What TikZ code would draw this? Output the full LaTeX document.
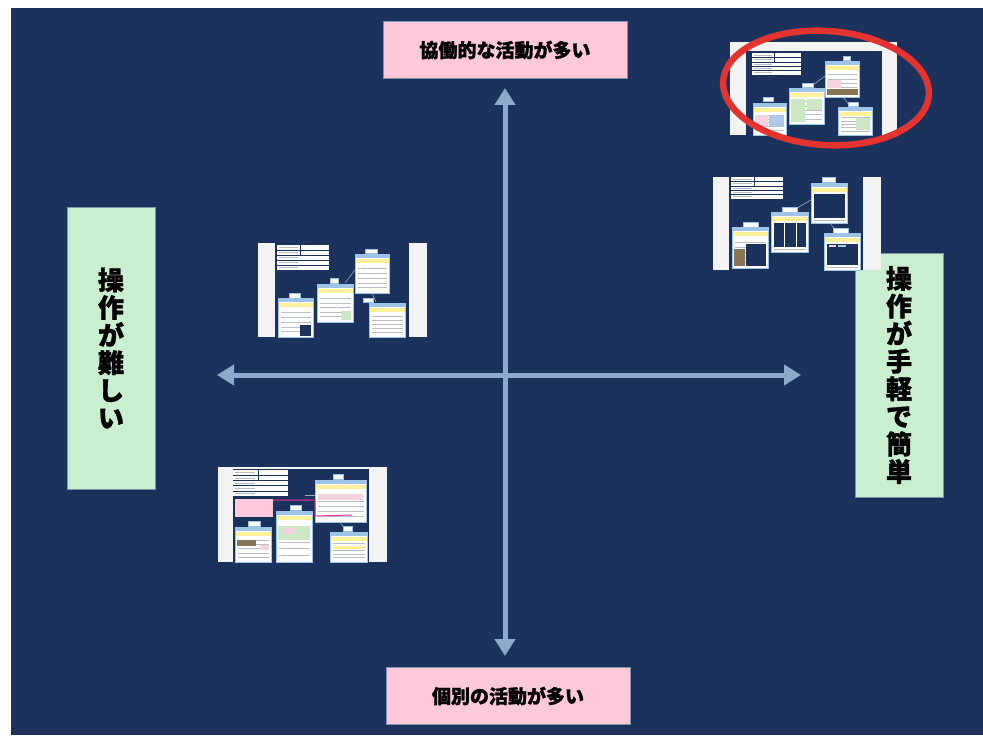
\documentclass[tikz,border=0pt]{standalone}
\usepackage{fontspec}
\newfontfamily\jp{Noto Sans CJK JP}[BoldFeatures={FakeBold=1.3}]
\usetikzlibrary{arrows.meta}
\definecolor{navy}{HTML}{1B325C}
\definecolor{axisblue}{HTML}{8EA9C9}
\definecolor{pinkbox}{HTML}{FFC9DA}
\definecolor{greenbox}{HTML}{C9EFD0}
\definecolor{boxedge}{HTML}{8090A8}
\definecolor{hdrblue}{HTML}{9DC3E6}
\definecolor{hdryellow}{HTML}{FFF19A}
\definecolor{txtgray}{HTML}{B8BEC8}
\definecolor{stripgray}{HTML}{F3F3F3}
\definecolor{redmark}{HTML}{E3342F}
\definecolor{linkgray}{HTML}{9AA8BC}
\definecolor{picgreen}{HTML}{CDE8C4}
\definecolor{picpink}{HTML}{F6D2DE}
\definecolor{picbrown}{HTML}{8A7556}
\definecolor{picblue}{HTML}{AFC9EA}
\tikzset{
  labelbox/.style={draw=boxedge, line width=0.8pt, inner sep=0pt, font=\jp\bfseries},
  hbox/.style={labelbox, fill=pinkbox, minimum width=244pt, minimum height=57pt, font=\jp\bfseries\fontsize{19}{22}\selectfont},
  vbox/.style={labelbox, fill=greenbox, minimum width=88pt, align=center, font=\jp\bfseries\fontsize{26}{27.6}\selectfont},
  axis/.style={axisblue, line width=5pt, {Triangle[width=20pt,length=17pt]}-{Triangle[width=20pt,length=17pt]}},
  cardedge/.style={draw=hdrblue, line width=0.5pt},
  link/.style={linkgray, line width=0.6pt},
}
% card in a thumbnail: x1,y1,x2,y2, tab x1,y1,x2,y2
\newcommand\tcard[8]{%
  \fill[white] (#1,#2) rectangle (#3,#4);
  \fill[hdrblue] (#1,#2) rectangle (#3,{#2+4});
  \fill[hdryellow] (#1,{#2+4.6}) rectangle (#3,{#2+8.6});
  \foreach \f in {0.38,0.5,0.62,0.74,0.86}
    \draw[txtgray, line width=0.7pt] ({#1+2.5},{#2+(#4-#2)*\f}) -- ({#3-2.5},{#2+(#4-#2)*\f});
  \draw[cardedge] (#1,#2) rectangle (#3,#4);
  \fill[white] (#5,#6) rectangle (#7,#8);
  \draw[hdrblue, line width=0.3pt] (#5,#6) rectangle (#7,#8);
}
% card with a navy content area
\newcommand\tcardn[8]{%
  \fill[white] (#1,#2) rectangle (#3,#4);
  \fill[hdrblue] (#1,#2) rectangle (#3,{#2+4});
  \fill[hdryellow] (#1,{#2+4.6}) rectangle (#3,{#2+8.6});
  \fill[navy] ({#1+2.5},{#2+11}) rectangle ({#3-2.5},{#4-5});
  \draw[txtgray, line width=0.6pt] ({#1+2.5},{#4-2.5}) -- ({#3-2.5},{#4-2.5});
  \draw[cardedge] (#1,#2) rectangle (#3,#4);
  \fill[white] (#5,#6) rectangle (#7,#8);
  \draw[hdrblue, line width=0.3pt] (#5,#6) rectangle (#7,#8);
}
\newcommand\tpatch[5]{\fill[#5] (#1,#2) rectangle (#3,#4);}
% table in a thumbnail: x1,y1,x2,y2
\newcommand\ttable[4]{%
  \fill[white] (#1,#2) rectangle (#3,#4);
  \foreach \f in {0.2,0.4,0.6,0.8}
    \draw[navy, line width=0.5pt] (#1,{#2+(#4-#2)*\f}) -- (#3,{#2+(#4-#2)*\f});
  \draw[navy, line width=0.5pt] ({#1+(#3-#1)*0.45},#2) -- ({#1+(#3-#1)*0.45},{#2+(#4-#2)*0.4});
  \foreach \f in {0.1,0.3,0.5,0.7,0.9}
    \draw[txtgray, line width=0.6pt] ({#1+2},{#2+(#4-#2)*\f}) -- ({#1+(#3-#1)*0.4},{#2+(#4-#2)*\f});
}
% thumbnail frame: outer x1,y1,x2,y2, navy x1,y1,x2,y2
\newcommand\tframe[8]{%
  \fill[stripgray] (#1,#2) rectangle (#3,#4);
  \fill[navy] (#5,#6) rectangle (#7,#8);
}
\begin{document}
\begin{tikzpicture}[x=1pt,y=-1pt]
\useasboundingbox (0,0) rectangle (983,738);
\fill[white] (0,0) rectangle (983,738);
\fill[navy] (11,8) rectangle (983,735);

% label boxes
\node[hbox] (coop) at (505,50) {協働的な活動が多い};
\node[hbox] (indiv) at (508,696) {個別の活動が多い};
\node[vbox, minimum height=282pt] (hard) at (111,348) {操\\作\\が\\難\\し\\い};
\node[vbox, minimum height=244pt] (easy) at (899,375) {操\\作\\が\\手\\軽\\で\\簡\\単};

% axes
\coordinate (ytop) at (505,88);
\coordinate (ybot) at (505,656);
\coordinate (xleft) at (217,375);
\coordinate (xright) at (801,375);
\draw[axis] (ytop) -- (ybot);
\draw[axis] (xleft) -- (xright);

% thumbnail 1 (top right)
\tframe{730}{42}{897}{135}{746}{51}{882}{135}
\ttable{752}{53}{801}{75}
\draw[link] (825,76) -- (813,85);
\draw[link] (843,97) -- (850,106);
\tcard{825}{61}{859}{97}{843}{56}{850}{60}
\tpatch{827}{80}{841}{88}{picpink}
\tpatch{827}{89}{858}{95}{picbrown}
\tcard{789}{88}{824}{124}{802}{83}{813}{87}
\tpatch{791}{99}{805}{122}{picgreen}
\tpatch{807}{99}{822}{110}{picgreen}
\tcard{753}{103}{786}{135}{763}{97}{773}{101}
\tpatch{755}{115}{768}{126}{picpink}
\tpatch{769}{115}{784}{126}{picblue}
\tcard{838}{107}{872}{135}{848}{102}{858}{106}
\tpatch{856}{118}{870}{130}{picgreen}

% thumbnail 2 (right)
\tframe{713}{177}{881}{270}{729}{177}{863}{270}
\ttable{731}{177}{783}{199}
\draw[link] (811,200) -- (797,208);
\draw[link] (830,223) -- (837,232);
\tcardn{811}{183}{847}{223}{822}{177}{835}{182}
\tcardn{771}{212}{808}{252}{782}{207}{797}{212}
\draw[white, line width=0.4pt] (784,223) -- (784,247) (796,223) -- (796,247);
\tcard{732}{227}{768}{268}{743}{222}{758}{227}
\tpatch{734}{249}{745}{266}{picbrown}
\fill[navy] (746,244) rectangle (766,266);
\tcardn{824}{233}{860}{270}{833}{228}{848}{233}
\tpatch{829}{245}{836}{247}{picpink}
\tpatch{838}{245}{846}{247}{picblue}

% thumbnail 3 (left middle)
\tframe{258}{243}{427}{337}{275}{243}{409}{337}
\ttable{277}{245}{329}{270}
\draw[link] (355,270) -- (345,283);
\draw[link] (372,293) -- (376,302);
\tcard{355}{254}{389}{293}{365}{249}{377}{253}
\tcard{317}{284}{353}{322}{330}{278}{338}{283}
\tpatch{341}{311}{351}{320}{picgreen}
\tcard{278}{298}{313}{337}{289}{293}{300}{298}
\tpatch{300}{325}{311}{336}{navy}
\tcard{369}{303}{405}{337}{363}{298}{373}{302}

% thumbnail 4 (left bottom)
\tframe{218}{467}{387}{562}{233}{469}{369}{562}
\ttable{233}{470}{288}{496}
\fill[pinkbox] (235,499) rectangle (273,517);
\draw[link] (305,495) -- (315,495);
\draw[link] (340,522) -- (346,531);
\tcard{315}{480}{366}{522}{333}{474}{343}{479}
\tpatch{318}{494}{363}{500}{picpink}
\tcard{276}{511}{312}{562}{290}{505}{301}{510}
\tpatch{278}{526}{310}{540}{picgreen}
\tpatch{284}{528}{296}{534}{picpink}
\tcard{235}{527}{271}{562}{248}{521}{260}{526}
\tpatch{237}{540}{256}{546}{picbrown}
\tpatch{260}{545}{269}{550}{picpink}
\tcard{330}{532}{367}{562}{343}{526}{352}{531}
\tpatch{333}{546}{364}{549}{hdryellow}
\draw[magenta!80!white, line width=1pt] (273,500) -- (315,500) -- (315,516) -- (352,515);

% red hand-drawn circle
\draw[redmark, line width=6.5pt, rotate around={-4:(826,88)}] (826,88) ellipse [x radius=103, y radius=57];
\end{tikzpicture}
\end{document}
